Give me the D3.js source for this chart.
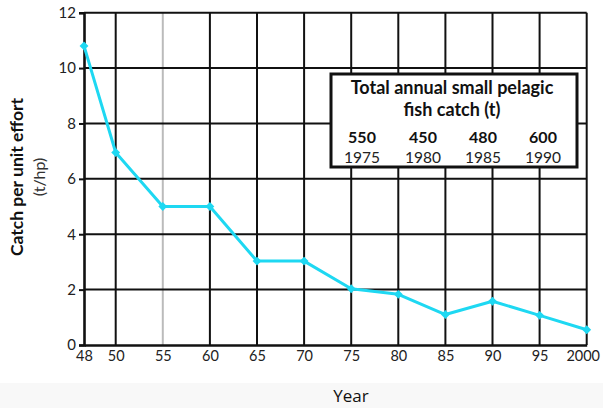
<!DOCTYPE html>
<html><head><meta charset="utf-8">
<script src="https://cdn.jsdelivr.net/npm/d3@7"></script>
<style>html,body{margin:0;padding:0;background:#fff;}svg{display:block;}</style>
</head><body>
<script>
const years = [1948,1950,1955,1960,1965,1970,1975,1980,1985,1990,1995,2000];
const cpue = [10.8,6.95,5.0,5.0,3.03,3.03,2.03,1.83,1.1,1.58,1.07,0.55];
const xTickLabels = ["48","50","55","60","65","70","75","80","85","90","95","2000"];
const yTicks = [0,2,4,6,8,10,12];
const insetValues = ["550","450","480","600"];
const insetYears = ["1975","1980","1985","1990"];
const insetTitle = ["Total annual small pelagic","fish catch (t)"];

const W=603,H=408;
const svg=d3.select("body").append("svg").attr("width",W).attr("height",H);
const font="Lato, 'Open Sans', sans-serif";

// faint band at bottom
svg.append("rect").attr("x",0).attr("y",383).attr("width",W).attr("height",H-383).attr("fill","#f8f8f8");

const x=d3.scaleLinear().domain([1948,1950,2000]).range([84,115.7,586.7]);
const y=d3.scaleLinear().domain([0,12]).range([345,12.7]);

const g=svg.append("g");
g.selectAll("line.vg").data(years.slice(1)).join("line")
 .attr("x1",d=>x(d)).attr("x2",d=>x(d)).attr("y1",y(0)).attr("y2",y(12))
 .attr("stroke",d=>d===1955?"#bbbbbb":"#111").attr("stroke-width",2);
g.selectAll("line.hg").data(yTicks.slice(1)).join("line")
 .attr("x1",x(1948)).attr("x2",x(2000)).attr("y1",d=>y(d)).attr("y2",d=>y(d))
 .attr("stroke","#111").attr("stroke-width",2);

const yAxis=d3.axisLeft(y).tickValues(yTicks).tickSize(5).tickPadding(3);
const ya=svg.append("g").attr("transform",`translate(${x(1948)},0)`).call(yAxis);
ya.select(".domain").attr("stroke","#111").attr("stroke-width",2.6);
ya.selectAll(".tick line").attr("stroke","#111").attr("stroke-width",2);
ya.selectAll(".tick text").attr("font-family",font).attr("font-size",15).attr("fill","#222");

const xAxis=d3.axisBottom(x).tickValues(years).tickFormat((d,i)=>xTickLabels[i]).tickSize(0).tickPadding(6);
const xa=svg.append("g").attr("transform",`translate(0,${y(0)})`).call(xAxis);
xa.select(".domain").attr("stroke","#111").attr("stroke-width",2.6);
xa.selectAll(".tick text").attr("font-family",font).attr("font-size",14.5).attr("fill","#222")
 .attr("dx",(d,i)=>i===years.length-1?-4:0);

const line=d3.line().x((d,i)=>x(years[i])).y(d=>y(d));
svg.append("path").datum(cpue).attr("d",line).attr("fill","none")
 .attr("stroke","#1ed8f2").attr("stroke-width",3).attr("stroke-linejoin","round");
svg.selectAll("path.m").data(cpue).join("path")
 .attr("d",d3.symbol(d3.symbolDiamond2,50))
 .attr("transform",(d,i)=>`translate(${x(years[i])},${y(d)})`)
 .attr("fill","#1ed8f2");

const bx=331,by=74,bw=246,bh=93;
svg.append("rect").attr("x",bx).attr("y",by).attr("width",bw).attr("height",bh)
 .attr("fill","#fff").attr("stroke","#111").attr("stroke-width",3);
svg.selectAll("text.it").data(insetTitle).join("text")
 .attr("x",bx+bw/2-2).attr("y",(d,i)=>94+i*22).attr("text-anchor","middle")
 .attr("font-family",font).attr("font-weight","bold").attr("font-size",18).attr("fill","#111").text(d=>d);
const cx=[362,423,483,543];
svg.selectAll("text.iv").data(insetValues).join("text")
 .attr("x",(d,i)=>cx[i]).attr("y",143).attr("text-anchor","middle")
 .attr("font-family",font).attr("font-weight","bold").attr("font-size",16).attr("fill","#111").text(d=>d);
svg.selectAll("text.iy").data(insetYears).join("text")
 .attr("x",(d,i)=>cx[i]).attr("y",163).attr("text-anchor","middle")
 .attr("font-family",font).attr("font-size",15.5).attr("fill","#222").text(d=>d);

svg.append("text").attr("transform","translate(23,177) rotate(-90)").attr("text-anchor","middle")
 .attr("font-family",font).attr("font-weight","bold").attr("font-size",17.5).attr("fill","#111").text("Catch per unit effort");
svg.append("text").attr("transform","translate(45,177) rotate(-90)").attr("text-anchor","middle")
 .attr("font-family",font).attr("font-size",16).attr("fill","#333").text("(t/hp)");

svg.append("text").attr("x",351).attr("y",402).attr("text-anchor","middle")
 .attr("font-family","'Open Sans', sans-serif").attr("font-size",17).attr("fill","#111").text("Year");
</script>
</body></html>
